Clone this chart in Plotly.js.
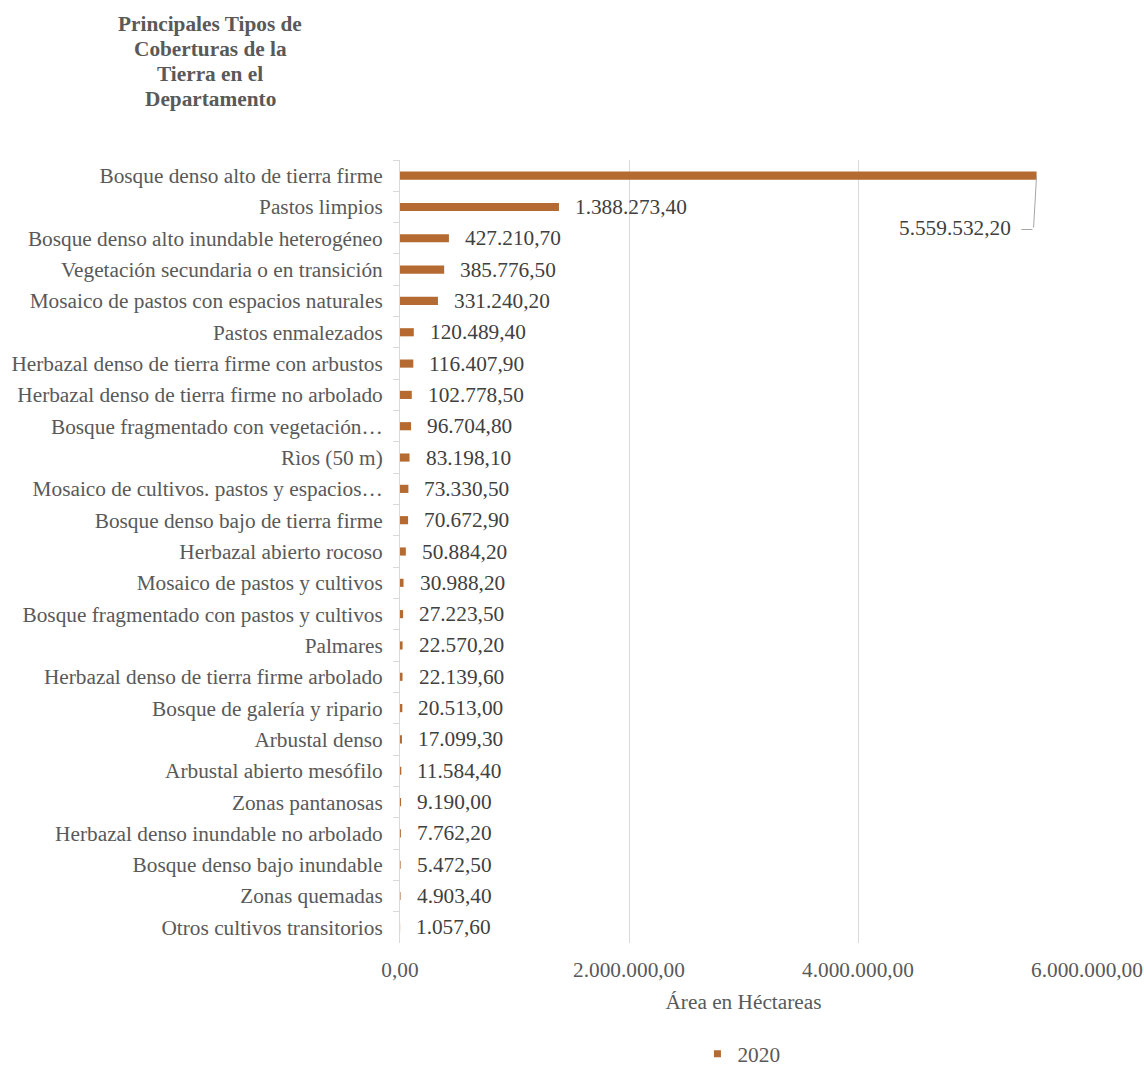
<!DOCTYPE html>
<html>
<head>
<meta charset="utf-8">
<script src="https://cdn.plot.ly/plotly-3.0.1.min.js"></script>
<style>html,body{margin:0;padding:0;background:#fff;}#chart{width:1144px;height:1068px;}</style>
</head>
<body>
<div id="chart"></div>
<script>
const categories = [
  "Bosque denso alto de tierra firme",
  "Pastos limpios",
  "Bosque denso alto inundable heterogéneo",
  "Vegetación secundaria o en transición",
  "Mosaico de pastos con espacios naturales",
  "Pastos enmalezados",
  "Herbazal denso de tierra firme con arbustos",
  "Herbazal denso de tierra firme no arbolado",
  "Bosque fragmentado con vegetación…",
  "Rìos (50 m)",
  "Mosaico de cultivos. pastos y espacios…",
  "Bosque denso bajo de tierra firme",
  "Herbazal abierto rocoso",
  "Mosaico de pastos y cultivos",
  "Bosque fragmentado con pastos y cultivos",
  "Palmares",
  "Herbazal denso de tierra firme arbolado",
  "Bosque de galería y ripario",
  "Arbustal denso",
  "Arbustal abierto mesófilo",
  "Zonas pantanosas",
  "Herbazal denso inundable no arbolado",
  "Bosque denso bajo inundable",
  "Zonas quemadas",
  "Otros cultivos transitorios"
];
const area2020 = [
  5559532.2, 1388273.4, 427210.7, 385776.5, 331240.2, 120489.4, 116407.9,
  102778.5, 96704.8, 83198.1, 73330.5, 70672.9, 50884.2, 30988.2, 27223.5,
  22570.2, 22139.6, 20513.0, 17099.3, 11584.4, 9190.0, 7762.2, 5472.5,
  4903.4, 1057.6
];
const seriesName = "2020";
const xTickVals = [0, 2000000, 4000000, 6000000];
const titleLines = ["Principales Tipos de", "Coberturas de la", "Tierra en el", "Departamento"];

function fmt(v) {
  const parts = v.toFixed(2).split(".");
  const intPart = parts[0].replace(/\B(?=(\d{3})+(?!\d))/g, ".");
  return intPart + "," + parts[1];
}

const FONT = "'Liberation Serif', 'Times New Roman', serif";
const FS = 21.3;
const TXT = "#595959";
const BAR = "#B46A30";

// plot area geometry (px) used to place title lines
const PT = 160, PB = 943, PL = 400, PR = 1087;
const PH = PB - PT, PW = PR - PL;

const annotations = area2020.map((v, i) => {
  if (i === 0) {
    return {
      x: v, y: categories[i], xref: "x", yref: "y",
      text: fmt(v) + " &nbsp;<span style='color:#a6a6a6'>–</span>",
      showarrow: true, arrowhead: 0, arrowwidth: 1, arrowcolor: "#a6a6a6",
      ax: -3, ay: 52, xanchor: "right", yanchor: "middle",
      font: {family: FONT, size: FS, color: "#404040"}
    };
  }
  return {
    x: v, y: categories[i], xref: "x", yref: "y",
    text: fmt(v), showarrow: false, xanchor: "left", yanchor: "middle",
    xshift: 14,
    font: {family: FONT, size: FS, color: "#404040"}
  };
});

titleLines.forEach((t, k) => {
  const yc = 24 + 25 * k;
  annotations.push({
    text: "<b>" + t + "</b>", showarrow: false,
    xref: "paper", yref: "paper",
    x: (210 - PL) / PW, y: (PB - yc) / PH,
    xanchor: "center", yanchor: "middle",
    font: {family: FONT, size: FS, color: TXT}
  });
});

const traces = [
  {
    type: "bar", orientation: "h",
    x: area2020, y: categories,
    name: seriesName, showlegend: false,
    marker: {color: BAR}, width: 0.26,
    hoverinfo: "x+y"
  },
  {
    type: "scatter", mode: "markers",
    x: [null], y: [null], name: seriesName,
    marker: {symbol: "square", size: 7, color: BAR},
    showlegend: true
  }
];

const layout = {
  width: 1144, height: 1068,
  paper_bgcolor: "#ffffff", plot_bgcolor: "#ffffff",
  separators: ",.",
  font: {family: FONT, size: FS, color: TXT},
  margin: {l: PL, r: 1144 - PR, t: PT, b: 1068 - PB, autoexpand: false},
  xaxis: {
    range: [0, 6000000],
    tickvals: xTickVals,
    tickformat: ",.2f",
    showgrid: true, gridcolor: "#d9d9d9", gridwidth: 1,
    zeroline: false, showline: false,
    ticks: "", ticklabelstandoff: 12,
    automargin: false,
    tickfont: {family: FONT, size: FS, color: TXT},
    title: {text: "Área en Héctareas", standoff: 12,
            font: {family: FONT, size: FS, color: TXT}}
  },
  yaxis: {
    type: "category",
    range: [categories.length - 0.5, -0.5],
    autorange: false,
    showgrid: false, zeroline: false,
    showline: true, linecolor: "#d9d9d9", linewidth: 1,
    ticks: "outside", tickson: "boundaries", ticklen: 6, tickcolor: "#d9d9d9",
    ticklabelstandoff: 12,
    automargin: false,
    tickfont: {family: FONT, size: FS, color: TXT}
  },
  legend: {
    orientation: "h", x: 0.497, xanchor: "center",
    y: (PB - 1054) / PH, yanchor: "middle",
    font: {family: FONT, size: FS, color: TXT},
    itemwidth: 30
  },
  annotations: annotations,
  showlegend: true
};

Plotly.newPlot("chart", traces, layout, {displayModeBar: false, staticPlot: true});
</script>
</body>
</html>
